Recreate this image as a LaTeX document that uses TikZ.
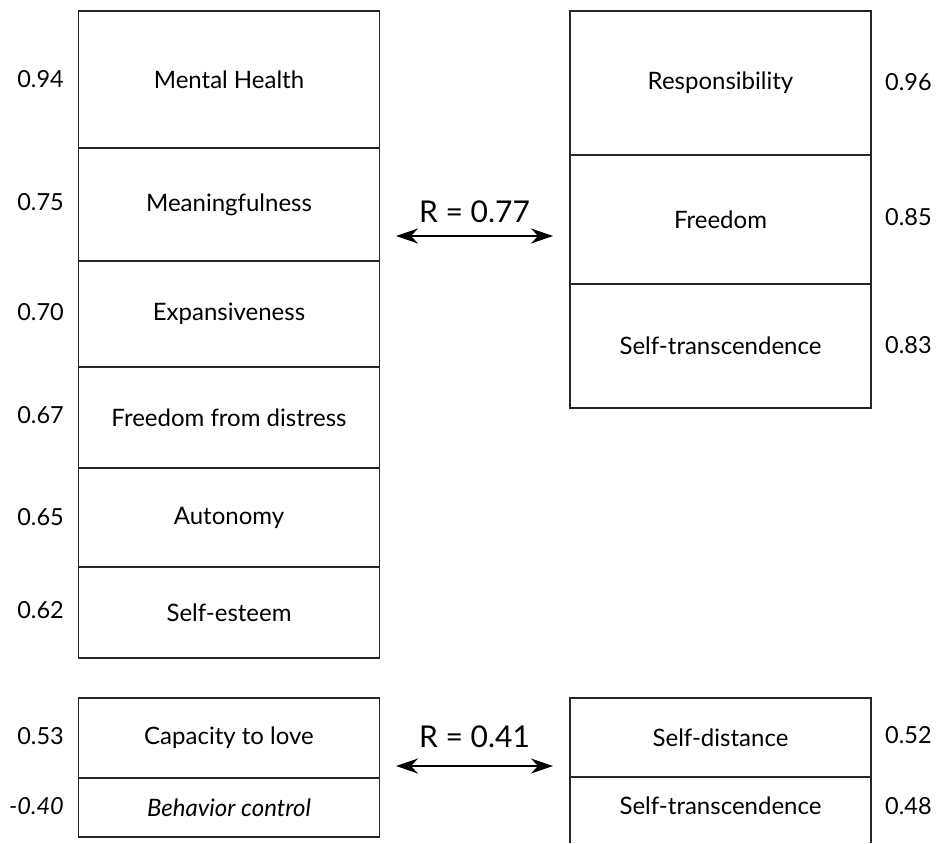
\documentclass[tikz,border=0pt]{standalone}
\usepackage{fontspec}
\setmainfont{Lato}
\usetikzlibrary{arrows.meta}
\begin{document}
\begin{tikzpicture}[x=1pt,y=-1pt,
  cell/.style={draw=black!85, line width=1.3pt, minimum width=301pt, inner sep=0pt, outer sep=0pt, font=\fontsize{24}{28}\selectfont},
  lbl/.style={inner sep=0pt, font=\fontsize{23.5}{28}\selectfont},
  rval/.style={inner sep=0pt, font=\fontsize{30}{34}\selectfont},
  link/.style={line width=1.8pt, {Stealth[length=22pt,width=15pt,inset=7pt]}-{Stealth[length=22pt,width=15pt,inset=7pt]}}
]
\useasboundingbox (0,0) rectangle (936,843);

% left column: mental health components
\node[cell, minimum height=137pt] (mh)  at (229,79.5)  {Mental Health};
\node[cell, minimum height=113pt] (mf)  at (229,204.5) {Meaningfulness};
\node[cell, minimum height=106pt] (ex)  at (229,314)   {Expansiveness};
\node[cell, minimum height=101pt] (fd)  at (229,417.5) {Freedom from distress};
\node[cell, minimum height=99pt]  (au)  at (229,517.5) {Autonomy};
\node[cell, minimum height=91pt]  (se)  at (229,612.5) {Self-esteem};

\node[lbl, anchor=east] (vmh) at (64,79)  {0.94};
\node[lbl, anchor=east] (vmf) at (64,202) {0.75};
\node[lbl, anchor=east] (vex) at (64,312) {0.70};
\node[lbl, anchor=east] (vfd) at (64,415) {0.67};
\node[lbl, anchor=east] (vau) at (64,517) {0.65};
\node[lbl, anchor=east] (vse) at (64,610) {0.62};

% right column: existential factors
\node[cell, minimum height=144pt] (re) at (720.5,83)    {Responsibility};
\node[cell, minimum height=129pt] (fr) at (720.5,219.5) {Freedom};
\node[cell, minimum height=124pt] (st) at (720.5,346)   {Self-transcendence};

\node[lbl, anchor=west] (vre) at (885,82)  {0.96};
\node[lbl, anchor=west] (vfr) at (885,217) {0.85};
\node[lbl, anchor=west] (vst) at (885,345) {0.83};

% first canonical correlation
\coordinate (a1) at (396,236);
\coordinate (b1) at (553,236);
\draw[link] (a1) -- (b1);
\node[rval] (r1) at (474.5,212) {R = 0.77};

% bottom left: second canonical pair
\node[cell, minimum height=80pt] (cl) at (229,738)   {Capacity to love};
\node[cell, minimum height=59pt] (bc) at (229,807.5) {\itshape Behavior control};
\node[lbl, anchor=east] (vcl) at (64,736) {0.53};
\node[lbl, anchor=east] (vbc) at (64,806) {\itshape -0.40};

% bottom right: open-ended box
\node[cell, minimum height=79pt] (sd) at (720.5,737.5) {Self-distance};
\node[cell, draw=none] (st2) at (720.5,806) {Self-transcendence};
\coordinate (edge) at (0,843);
\draw[draw=black!85, line width=1.3pt] (sd.south west) -- (sd.south west |- edge);
\draw[draw=black!85, line width=1.3pt] (sd.south east) -- (sd.south east |- edge);
\node[lbl, anchor=west] (vsd) at (885,735) {0.52};
\node[lbl, anchor=west] (vst2) at (885,806) {0.48};

% second canonical correlation
\coordinate (a2) at (396,766);
\coordinate (b2) at (553,766);
\draw[link] (a2) -- (b2);
\node[rval] (r2) at (474.5,737) {R = 0.41};
\end{tikzpicture}
\end{document}
